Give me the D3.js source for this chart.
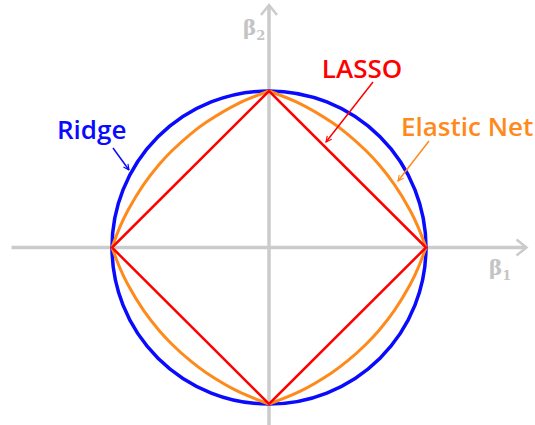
<!DOCTYPE html>
<html>
<head>
<meta charset="utf-8">
<script src="https://cdn.jsdelivr.net/npm/d3@7"></script>
<style>
    body { margin: 0; background: #fff; }
    .label { font-family: 'Open Sans', sans-serif; font-weight: 600; }
    .beta { font-family: 'DejaVu Serif', serif; font-weight: bold; fill: #c4c4c4; }
</style>
</head>
<body>
<div id="chart" style="width:535px;height:425px"></div>
<script>
// axis extents in beta units
const xAxisExtent = [-1.64, 1.64];
const yAxisExtent = [-1.2, 1.55];

// unit balls: radius 1
const ridgeRadius = 1;
const lassoVertices = [[1, 0], [0, 1], [-1, 0], [0, -1]];
// elastic net boundary, first quadrant
const netX = [0, 0.2, 0.4, 0.5, 0.618, 0.7, 0.8, 0.9, 0.95, 1];
const netY = [1, 0.918, 0.8, 0.725, 0.618, 0.53, 0.4, 0.235, 0.13, 0];

const labels = ['Ridge', 'LASSO', 'Elastic Net'];

const width = 535, height = 425;
const svg = d3.select('#chart').append('svg')
    .attr('width', width)
    .attr('height', height);

const xScale = d3.scaleLinear().domain([-1, 1]).range([112, 426]);
const yScale = d3.scaleLinear().domain([-1, 1]).range([404, 91]);

const defs = svg.append('defs');
function marker(id, color) {
    defs.append('marker')
        .attr('id', id)
        .attr('viewBox', '0 0 10 10')
        .attr('refX', 9).attr('refY', 5)
        .attr('markerWidth', 7).attr('markerHeight', 7)
        .attr('markerUnits', 'userSpaceOnUse')
        .attr('orient', 'auto')
        .append('path')
        .attr('d', 'M1,1 L9,5 L1,9')
        .attr('fill', 'none')
        .attr('stroke', color)
        .attr('stroke-width', 1.6);
}
marker('mBlue', '#0000ff');
marker('mRed', '#ff0000');
marker('mOrange', '#ff8a1c');

// axes
const axisG = svg.append('g')
    .attr('stroke', '#cbcbcb')
    .attr('stroke-width', 3.5)
    .attr('fill', 'none');
axisG.append('line')
    .attr('x1', xScale(xAxisExtent[0])).attr('x2', xScale(xAxisExtent[1]))
    .attr('y1', yScale(0)).attr('y2', yScale(0));
axisG.append('line')
    .attr('x1', xScale(0)).attr('x2', xScale(0))
    .attr('y1', yScale(yAxisExtent[0])).attr('y2', yScale(yAxisExtent[1]));
const xe = xScale(xAxisExtent[1]), ye = yScale(yAxisExtent[1]);
axisG.append('path')
    .attr('stroke-width', 2.5)
    .attr('d', `M${xe - 10},${yScale(0) - 8} L${xe},${yScale(0)} L${xe - 10},${yScale(0) + 8}`);
axisG.append('path')
    .attr('stroke-width', 2.5)
    .attr('d', `M${xScale(0) - 8},${ye + 10} L${xScale(0)},${ye} L${xScale(0) + 8},${ye + 10}`);

// beta labels
const b2 = svg.append('text').attr('class', 'beta').attr('x', 243).attr('y', 35).attr('font-size', 20);
b2.append('tspan').text('β');
b2.append('tspan').attr('font-size', 13).attr('dy', 5).text('2');
const b1 = svg.append('text').attr('class', 'beta').attr('x', 489).attr('y', 275).attr('font-size', 20);
b1.append('tspan').text('β');
b1.append('tspan').attr('font-size', 13).attr('dy', 5).text('1');

// ridge circle
svg.append('ellipse')
    .attr('cx', xScale(0)).attr('cy', yScale(0))
    .attr('rx', xScale(ridgeRadius) - xScale(0))
    .attr('ry', yScale(0) - yScale(ridgeRadius))
    .attr('fill', 'none')
    .attr('stroke', '#0a0aff')
    .attr('stroke-width', 3.5);

// elastic net, one quadrant mirrored four times
const netLine = d3.line()
    .x(d => xScale(d[0]))
    .y(d => yScale(d[1]))
    .curve(d3.curveCatmullRom);
const netPts = netX.map((x, i) => [x, netY[i]]);
[[1, 1], [-1, 1], [-1, -1], [1, -1]].forEach(s => {
    svg.append('path')
        .attr('d', netLine(netPts.map(p => [p[0] * s[0], p[1] * s[1]])))
        .attr('fill', 'none')
        .attr('stroke', '#ff8a1c')
        .attr('stroke-width', 3);
});

// lasso diamond
svg.append('path')
    .attr('d', d3.line().x(d => xScale(d[0])).y(d => yScale(d[1]))(lassoVertices) + 'Z')
    .attr('fill', 'none')
    .attr('stroke', '#ff0000')
    .attr('stroke-width', 2.5)
    .attr('stroke-linejoin', 'miter');

// labels + pointers
svg.append('text').attr('class', 'label')
    .attr('x', 57).attr('y', 139).attr('font-size', 26)
    .attr('fill', '#0a0aff').text(labels[0]);
svg.append('line')
    .attr('x1', 113).attr('y1', 148).attr('x2', 129).attr('y2', 170)
    .attr('stroke', '#0a0aff').attr('stroke-width', 1.5)
    .attr('marker-end', 'url(#mBlue)');

svg.append('text').attr('class', 'label')
    .attr('x', 362).attr('y', 78).attr('font-size', 26)
    .attr('text-anchor', 'middle')
    .attr('fill', '#ff0000').text(labels[1]);
svg.append('line')
    .attr('x1', 373).attr('y1', 82).attr('x2', 326).attr('y2', 142)
    .attr('stroke', '#ff0000').attr('stroke-width', 1.5)
    .attr('marker-end', 'url(#mRed)');

svg.append('text').attr('class', 'label')
    .attr('x', 401).attr('y', 136).attr('font-size', 26)
    .attr('fill', '#ff8a1c').text(labels[2]);
svg.append('line')
    .attr('x1', 429).attr('y1', 141).attr('x2', 398).attr('y2', 181)
    .attr('stroke', '#ff8a1c').attr('stroke-width', 1.5)
    .attr('marker-end', 'url(#mOrange)');
</script>
</body>
</html>
